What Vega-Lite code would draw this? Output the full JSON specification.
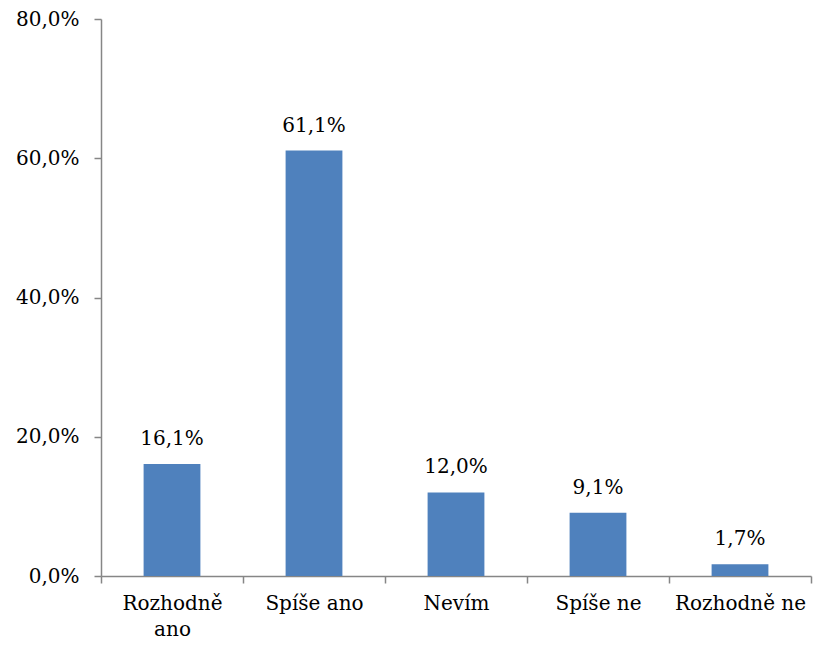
{
  "$schema": "https://vega.github.io/schema/vega-lite/v6.json",
  "autosize": {"type": "none"},
  "padding": {"left": 101, "top": 19, "right": 3, "bottom": 72},
  "width": 710,
  "height": 557,
  "background": "white",
  "config": {
    "locale": {"number": {"decimal": ",", "thousands": " ", "grouping": [3], "currency": ["", " Kč"]}},
    "view": {"stroke": null},
    "font": "DejaVu Serif"
  },
  "data": {
    "values": [
      {"kategorie": "Rozhodně ano", "podil": 0.161},
      {"kategorie": "Spíše ano", "podil": 0.611},
      {"kategorie": "Nevím", "podil": 0.120},
      {"kategorie": "Spíše ne", "podil": 0.091},
      {"kategorie": "Rozhodně ne", "podil": 0.017}
    ]
  },
  "encoding": {
    "x": {
      "field": "kategorie",
      "type": "nominal",
      "sort": null,
      "scale": {"paddingInner": 0, "paddingOuter": 0},
      "axis": {
        "title": null,
        "labelAngle": 0,
        "labelFont": "DejaVu Serif",
        "labelFontSize": 20,
        "labelColor": "#000000",
        "labelPadding": 10,
        "labelLineHeight": 26,
        "labelExpr": "datum.value == 'Rozhodně ano' ? ['Rozhodně', 'ano'] : datum.value",
        "domainColor": "#868686",
        "domainWidth": 1.5,
        "tickColor": "#868686",
        "tickWidth": 1.5,
        "tickSize": 7,
        "tickBand": "extent",
        "grid": false
      }
    },
    "y": {
      "field": "podil",
      "type": "quantitative",
      "scale": {"domain": [0, 0.8]},
      "axis": {
        "title": null,
        "values": [0, 0.2, 0.4, 0.6, 0.8],
        "format": ".1%",
        "labelFont": "DejaVu Serif",
        "labelFontSize": 20,
        "labelColor": "#000000",
        "labelPadding": 15,
        "domainColor": "#868686",
        "domainWidth": 1.5,
        "tickColor": "#868686",
        "tickWidth": 1.5,
        "tickSize": 7,
        "grid": false
      }
    }
  },
  "layer": [
    {
      "mark": {"type": "bar", "color": "#4F81BD", "width": {"band": 0.4}}
    },
    {
      "mark": {"type": "text", "dy": -25, "font": "DejaVu Serif", "fontSize": 20, "color": "#000000"},
      "encoding": {"text": {"field": "podil", "type": "quantitative", "format": ".1%"}}
    }
  ]
}
